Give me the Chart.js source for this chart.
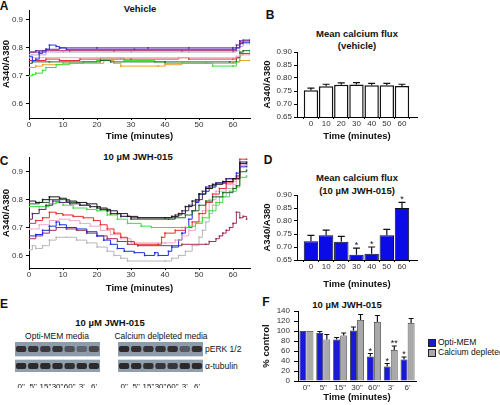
<!DOCTYPE html>
<html>
<head>
<meta charset="utf-8">
<script src="https://cdn.jsdelivr.net/npm/chart.js@4.4.1/dist/chart.umd.min.js"></script>
<style>
  body { margin: 0; width: 500px; height: 405px; position: relative; background: #fff; overflow: hidden;
         font-family: "Liberation Sans", Arial, sans-serif; color: #111; }
  canvas { position: absolute; }
  .t { position: absolute; transform: translate(-50%, -50%); white-space: nowrap; font-weight: bold; font-size: 9.5px; line-height: 11px; }
  .n { font-weight: normal; font-size: 8.5px; }
  .lt { position: absolute; transform: translate(0, -50%); white-space: nowrap; font-size: 8.5px; }
  .L { position: absolute; transform: translate(-50%, -50%); font-weight: bold; font-size: 12px; }
  .sw { position: absolute; width: 6px; height: 6px; border: 1px solid #222; }
</style>
</head>
<body>
<!-- panel letters and titles -->
<div class="L" style="left:4px;top:6px">A</div>
<div class="L" style="left:270px;top:15px">B</div>
<div class="L" style="left:4px;top:161px">C</div>
<div class="L" style="left:268px;top:160px">D</div>
<div class="L" style="left:4px;top:304px">E</div>
<div class="L" style="left:266px;top:302px">F</div>

<div class="t" style="left:140px;top:8px">Vehicle</div>
<div class="t" style="left:357px;top:33px">Mean calcium flux</div>
<div class="t" style="left:357px;top:45px">(vehicle)</div>
<div class="t" style="left:138px;top:156px">10 µM JWH-015</div>
<div class="t" style="left:357px;top:177px">Mean calcium flux</div>
<div class="t" style="left:357px;top:190px">(10 µM JWH-015)</div>
<div class="t" style="left:110px;top:322px">10 µM JWH-015</div>
<div class="t n" style="left:57px;top:336px">Opti-MEM media</div>
<div class="t n" style="left:161px;top:336px">Calcium delpleted media</div>
<div class="lt" style="left:205px;top:349px">pERK 1/2</div>
<div class="lt" style="left:205px;top:366px">α-tubulin</div>
<div class="t" style="left:347px;top:304px">10 µM JWH-015</div>

<!-- legend F -->
<div class="sw" style="left:428px;top:339px;background:#1a1ad6"></div>
<div class="lt" style="left:438px;top:342px">Opti-MEM</div>
<div class="sw" style="left:428px;top:349px;background:#a9a9a9"></div>
<div class="lt" style="left:438px;top:352px">Calcium depleted</div>

<script>
// ---- A: vehicle traces [time, A340/A380]
const vehBlue = [[0,0.77],[1,0.755],[2,0.76],[3,0.785],[5,0.795],[6,0.81],[8,0.805],[9,0.80],[11,0.795],[31,0.795],[60,0.795],[61,0.80],[62,0.815],[63,0.82],[65,0.82]];
const vehPurple = [[0,0.785],[2,0.79],[5,0.795],[9,0.80],[20,0.80],[35,0.80],[47,0.80],[60,0.80],[61,0.81],[62,0.825],[65,0.825]];
const vehMaroon = [[0,0.785],[3,0.78],[4,0.79],[12,0.79],[25,0.79],[45,0.79],[60,0.79],[61,0.80],[62,0.82],[63,0.828],[65,0.828]];
const vehLavender = [[0,0.775],[5,0.785],[10,0.785],[30,0.785],[47,0.785],[60,0.785],[61,0.79],[62,0.805],[63,0.815],[65,0.815]];
const vehPink = [[0,0.765],[8,0.765],[25,0.765],[44,0.765],[52,0.765],[60,0.765],[61,0.77],[62,0.775],[65,0.775]];
const vehRed = [[0,0.755],[3,0.755],[5,0.76],[9,0.755],[15,0.76],[30,0.76],[44,0.765],[47,0.76],[60,0.76],[61,0.765],[62,0.78],[65,0.78]];
const vehDarkGreen = [[0,0.745],[1,0.75],[6,0.75],[21,0.755],[24,0.75],[40,0.75],[59,0.75],[61,0.765],[62,0.785],[63,0.79],[65,0.79]];
const vehGreen = [[0,0.70],[1,0.705],[2,0.71],[4,0.72],[5,0.73],[8,0.74],[12,0.745],[16,0.75],[20,0.755],[21,0.765],[27,0.765],[28,0.755],[37,0.75],[40,0.745],[52,0.745],[54,0.735],[60,0.735],[61,0.75],[62,0.775],[63,0.78],[65,0.78]];
const vehOrange = [[0,0.73],[2,0.735],[4,0.74],[10,0.745],[21,0.745],[22,0.755],[25,0.745],[27,0.735],[38,0.735],[40,0.74],[45,0.745],[60,0.745],[61,0.75],[62,0.755],[65,0.755]];

// ---- C: JWH-015 traces [time, A340/A380]
const jwhBlack = [[0,0.795],[2,0.79],[4,0.80],[6,0.81],[9,0.805],[11,0.795],[14,0.79],[17,0.785],[20,0.77],[23,0.76],[26,0.75],[29,0.74],[32,0.735],[40,0.735],[42,0.74],[44,0.75],[46,0.775],[48,0.795],[50,0.82],[52,0.84],[54,0.855],[57,0.865],[60,0.875],[62,0.93],[64,0.93]];
const jwhPurple = [[0,0.73],[1,0.75],[3,0.765],[5,0.78],[7,0.795],[9,0.79],[12,0.785],[15,0.78],[18,0.775],[21,0.765],[24,0.75],[27,0.74],[30,0.735],[40,0.735],[43,0.745],[45,0.76],[47,0.78],[49,0.80],[51,0.83],[53,0.85],[55,0.86],[58,0.875],[61,0.885],[62,0.935],[64,0.935]];
const jwhDarkGreen = [[0,0.785],[3,0.79],[6,0.80],[9,0.80],[12,0.79],[15,0.78],[18,0.775],[21,0.765],[24,0.75],[27,0.74],[30,0.73],[41,0.73],[43,0.735],[46,0.745],[48,0.76],[50,0.78],[52,0.795],[54,0.81],[57,0.825],[60,0.84],[61,0.85],[62,0.90],[64,0.905]];
const jwhGreen = [[0,0.775],[3,0.775],[6,0.785],[8,0.79],[10,0.78],[13,0.77],[17,0.765],[20,0.76],[23,0.745],[26,0.73],[29,0.715],[33,0.705],[36,0.70],[45,0.70],[47,0.705],[49,0.715],[51,0.735],[53,0.76],[55,0.79],[57,0.81],[59,0.83],[61,0.845],[62,0.88],[64,0.885]];
const jwhRed = [[0,0.715],[2,0.725],[4,0.735],[6,0.755],[8,0.75],[10,0.745],[13,0.74],[16,0.735],[19,0.725],[21,0.71],[23,0.695],[25,0.68],[27,0.665],[29,0.65],[31,0.64],[38,0.64],[39,0.665],[40,0.68],[43,0.69],[46,0.70],[48,0.72],[50,0.75],[52,0.79],[54,0.82],[56,0.84],[58,0.86],[60,0.875],[62,0.945],[64,0.945]];
const jwhPink = [[0,0.695],[3,0.71],[6,0.725],[9,0.73],[12,0.725],[15,0.715],[18,0.705],[21,0.69],[24,0.675],[27,0.66],[30,0.645],[40,0.645],[43,0.655],[45,0.67],[47,0.69],[49,0.72],[51,0.76],[53,0.80],[55,0.83],[58,0.855],[61,0.875],[62,0.925],[64,0.925]];
const jwhBlue = [[0,0.67],[2,0.675],[4,0.69],[6,0.705],[8,0.72],[9,0.71],[11,0.70],[14,0.695],[17,0.685],[20,0.67],[22,0.655],[24,0.64],[26,0.625],[28,0.615],[31,0.61],[34,0.60],[37,0.61],[38,0.60],[41,0.615],[42,0.63],[44,0.655],[45,0.68],[46,0.70],[47,0.73],[48,0.76],[49,0.79],[50,0.82],[52,0.845],[55,0.86],[58,0.875],[61,0.895],[62,0.92],[64,0.92]];
const jwhMaroon = [[0,0.66],[2,0.67],[4,0.68],[6,0.69],[8,0.70],[11,0.695],[14,0.69],[17,0.68],[20,0.67],[23,0.66],[26,0.65],[29,0.64],[32,0.635],[42,0.635],[45,0.64],[52,0.64],[53,0.65],[55,0.66],[56,0.67],[57,0.68],[58,0.69],[59,0.70],[60,0.715],[61,0.755],[62,0.735],[63,0.74],[64,0.73]];
const jwhGray = [[0,0.62],[1,0.635],[2,0.625],[4,0.635],[6,0.655],[8,0.665],[11,0.665],[14,0.655],[17,0.645],[20,0.63],[23,0.615],[25,0.60],[27,0.59],[29,0.58],[40,0.58],[42,0.59],[44,0.60],[46,0.615],[48,0.635],[50,0.665],[51,0.69],[52,0.72],[53,0.75],[54,0.78],[56,0.81],[58,0.84],[60,0.865],[61,0.88],[62,0.915],[64,0.915]];

// ---- B / D: mean calcium flux
const fluxTimes = [0, 10, 20, 30, 40, 50, 60];
const vehMean = [0.753, 0.768, 0.774, 0.775, 0.772, 0.772, 0.769];
const vehSem = [0.008, 0.008, 0.007, 0.007, 0.007, 0.007, 0.007];
const jwhMean = [0.722, 0.745, 0.720, 0.670, 0.674, 0.745, 0.850];
const jwhSem = [0.023, 0.020, 0.021, 0.026, 0.026, 0.023, 0.022];
const jwhStars = ['', '', '', '*', '*', '', '*'];

// ---- E: blot band intensities (0..1)
const laneLabels = ['0"', '5"', '15"', '30"', '60"', "3'", "6'"];
const perkOpti = [0.9, 0.85, 0.8, 0.85, 0.6, 0.45, 0.7];
const tubOpti = [0.95, 0.95, 0.95, 0.95, 0.9, 0.95, 0.95];
const perkCa = [0.95, 0.9, 0.85, 0.85, 0.9, 0.55, 0.9];
const tubCa = [0.95, 0.95, 0.9, 0.85, 0.85, 0.95, 0.95];

// ---- F: % control
const fLabels = ['0"', '5"', '15"', '30"', '60"', "3'", "6'"];
const optiPct = [100, 96, 83, 101, 49, 29, 43];
const optiSem = [0, 3, 4, 7, 6, 6, 5];
const optiStars = ['', '', '', '', '*', '*', '*'];
const caPct = [100, 83, 91, 122, 118, 62, 116];
const caSem = [0, 10, 5, 11, 13, 8, 9];
const caStars = ['', '', '', '', '', '**', ''];

Chart.defaults.animation = false;
Chart.defaults.font.family = '"Liberation Sans", Arial, sans-serif';
Chart.defaults.color = '#222';
Chart.defaults.plugins.legend.display = false;
Chart.defaults.plugins.tooltip.enabled = false;

function box(left, top, w, h) {
  const c = document.createElement('canvas');
  c.width = w; c.height = h;
  c.style.left = left + 'px'; c.style.top = top + 'px';
  c.style.width = w + 'px'; c.style.height = h + 'px';
  document.body.appendChild(c);
  return c.getContext('2d');
}

function axis(o) {
  return {
    type: o.type || 'linear', min: o.min, max: o.max, offset: !!o.offset,
    afterBuildTicks: o.ticks ? (s => { s.ticks = o.ticks.map(v => ({ value: v })); }) : undefined,
    afterFit: s => { if (s.isHorizontal()) s.height = o.size; else s.width = o.size; },
    grid: { drawOnChartArea: false, drawTicks: o.tl !== 0, tickLength: o.tl ?? 3, color: '#000' },
    border: { color: '#000', width: 1 },
    ticks: { font: { size: o.fs || 8 }, color: '#333', padding: o.pad ?? 0, autoSkip: false, maxRotation: 0,
             callback: o.fmt || function (v) { return this.getLabelForValue(v); } },
    title: { display: !!o.title, text: o.title, color: '#111', font: { size: 9.5, weight: 'bold' },
             padding: o.titlePad || { top: 4, bottom: 4 } }
  };
}

// error bars + significance marks, drawn from the y scale
const errorBars = {
  id: 'errorBars',
  afterDatasetsDraw(chart) {
    const ctx = chart.ctx, y = chart.scales.y;
    chart.data.datasets.forEach((ds, di) => {
      if (!ds.sem) return;
      chart.getDatasetMeta(di).data.forEach((bar, i) => {
        const top = y.getPixelForValue(ds.means[i] + ds.sem[i]);
        ctx.save();
        ctx.strokeStyle = '#111'; ctx.lineWidth = 1.2;
        if (ds.sem[i] > 0) {
          ctx.beginPath();
          ctx.moveTo(bar.x, bar.y); ctx.lineTo(bar.x, top);
          ctx.moveTo(bar.x - ds.cap / 2, top); ctx.lineTo(bar.x + ds.cap / 2, top);
          ctx.stroke();
        }
        const s = ds.stars && ds.stars[i];
        if (s) {
          ctx.fillStyle = '#111'; ctx.font = '9px "Liberation Sans", Arial';
          ctx.textAlign = 'center'; ctx.textBaseline = 'alphabetic';
          ctx.fillText(s, bar.x, top);
        }
        ctx.restore();
      });
    });
  }
};

function traces(list) {
  return list.map(([pts, color]) => ({
    data: pts.map(p => ({ x: p[0], y: p[1] })),
    borderColor: color, backgroundColor: color, borderWidth: 1, stepped: true,
    pointStyle: 'rect', pointRadius: 1.1, pointBorderWidth: 0, fill: false
  }));
}

const timeTicks = [0, 10, 20, 30, 40, 50, 60];
const ratioTicks = [0.6, 0.7, 0.8, 0.9];

// A
new Chart(box(0, 0, 256, 146), {
  type: 'line',
  data: { datasets: traces([
    [vehBlue, '#2b35d8'], [vehPurple, '#6a2a9a'], [vehMaroon, '#b0306a'], [vehLavender, '#b8aed0'],
    [vehPink, '#f4a6be'], [vehRed, '#e03030'], [vehDarkGreen, '#1f6f2a'], [vehGreen, '#44dd33'], [vehOrange, '#f0a030']
  ]) },
  options: {
    responsive: false, devicePixelRatio: 1,
    layout: { padding: { top: 10, right: 6 } },
    scales: {
      x: axis({ min: 0, max: 65, ticks: timeTicks, size: 28, tl: 2, title: 'Time (minutes)', fmt: v => v }),
      y: axis({ min: 0.55, max: 0.935, ticks: ratioTicks, size: 29, pad: 3, title: 'A340/A380',
                titlePad: { top: 1, bottom: 0 }, fmt: v => v.toFixed(1) })
    }
  }
});

// C
new Chart(box(0, 150, 256, 148), {
  type: 'line',
  data: { datasets: traces([
    [jwhBlack, '#1a1a1a'], [jwhPurple, '#4b2a6e'], [jwhDarkGreen, '#1f6a25'], [jwhGreen, '#3ede3e'],
    [jwhRed, '#e83030'], [jwhPink, '#f0a8c8'], [jwhBlue, '#2030e0'], [jwhMaroon, '#a0305a'], [jwhGray, '#b8b8b8']
  ]) },
  options: {
    responsive: false, devicePixelRatio: 1,
    layout: { padding: { top: 7, right: 6 } },
    scales: {
      x: axis({ min: 0, max: 65, ticks: timeTicks, size: 30, tl: 2, title: 'Time (minutes)', fmt: v => v }),
      y: axis({ min: 0.555, max: 0.95, ticks: ratioTicks, size: 29, pad: 3, title: 'A340/A380',
                titlePad: { top: 1, bottom: 0 }, fmt: v => v.toFixed(1) })
    }
  }
});

function fluxChart(top, height, means, sem, stars, fill) {
  return new Chart(box(255, top, 175, height), {
    type: 'bar',
    data: { datasets: [{
      data: fluxTimes.map((t, i) => ({ x: t, y: means[i] })),
      means, sem, stars, cap: 7,
      backgroundColor: fill, borderColor: '#111', borderWidth: fill === '#fff' ? 1.5 : 1,
      barPercentage: 0.95, categoryPercentage: 1
    }] },
    options: {
      responsive: false, devicePixelRatio: 1,
      layout: { padding: { top: 12, right: 13 } },
      scales: {
        x: axis({ min: -9.2, max: 69.9, ticks: fluxTimes, size: height - 77, tl: 2, title: 'Time (minutes)', fmt: v => v }),
        y: axis({ min: 0.65, max: 0.9, ticks: [0.65, 0.7, 0.75, 0.8, 0.85, 0.9], size: 42, pad: 2,
                  title: 'A340/A380', titlePad: { top: 7, bottom: 4 }, fmt: v => v.toFixed(2) })
      }
    },
    plugins: [errorBars]
  });
}
// B and D
fluxChart(40, 106, vehMean, vehSem, null, '#fff');
fluxChart(183, 111, jwhMean, jwhSem, jwhStars, '#0b0be8');

// E: blots drawn as floating bars
const band = a => `rgba(40,34,36,${a})`;
function blot(left, perk, tub) {
  const row = (vals, lo, hi, col, order, bp) => ({
    data: vals.map(() => [lo, hi]), backgroundColor: col, order, grouped: false,
    barPercentage: bp, categoryPercentage: 1, borderRadius: bp < 1 ? 2 : 0, borderSkipped: false
  });
  new Chart(box(left, 338, 96, 50), {
    type: 'bar',
    data: { labels: laneLabels, datasets: [
      row(perk, 2.0, 2.6, perk.map(band), 1, 0.85),
      row(tub, 0.3, 0.9, tub.map(band), 1, 0.85),
      row(perk, 1.6, 3.0, '#8d9cab', 2, 1),
      row(tub, 0, 1.2, '#8fa0ad', 2, 1)
    ] },
    options: {
      responsive: false, devicePixelRatio: 1,
      layout: { padding: { top: 4, left: 5, right: 6 } },
      scales: {
        x: { offset: true, grid: { display: false }, border: { display: false },
             afterFit: s => { s.height = 16; },
             ticks: { font: { size: 8 }, color: '#111', padding: 2, maxRotation: 0, autoSkip: false } },
        y: { display: false, min: 0, max: 3 }
      }
    }
  });
}
blot(10, perkOpti, tubOpti);
blot(113, perkCa, tubCa);

// F
new Chart(box(255, 300, 170, 105), {
  type: 'bar',
  data: { labels: fLabels, datasets: [
    { data: optiPct, means: optiPct, sem: optiSem, stars: optiStars, cap: 5,
      backgroundColor: '#1a1ad6', borderColor: '#222', borderWidth: 0.8, barPercentage: 0.97, categoryPercentage: 0.84 },
    { data: caPct, means: caPct, sem: caSem, stars: caStars, cap: 5,
      backgroundColor: '#a9a9a9', borderColor: '#333', borderWidth: 0.8, barPercentage: 0.97, categoryPercentage: 0.84 }
  ] },
  options: {
    responsive: false, devicePixelRatio: 1,
    layout: { padding: { top: 11, right: 9 } },
    scales: {
      x: axis({ type: 'category', offset: true, size: 24, tl: 0, pad: 2, title: 'Time (minutes)', titlePad: { top: 2, bottom: 2 } }),
      y: axis({ min: 0, max: 140, ticks: [0, 20, 40, 60, 80, 100, 120, 140], size: 43, tl: 4, pad: 4,
                title: '% control', titlePad: { top: 6, bottom: 4 }, fmt: v => v })
    }
  },
  plugins: [errorBars]
});
</script>
</body>
</html>
